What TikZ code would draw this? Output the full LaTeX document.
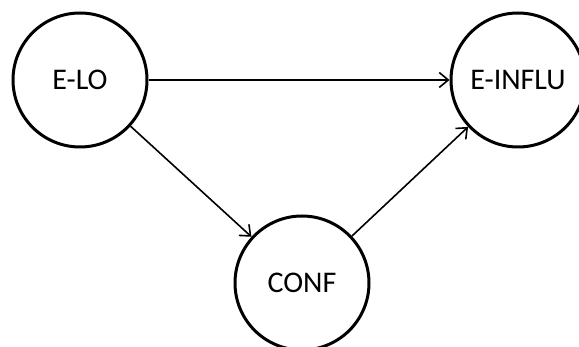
\documentclass[tikz,border=0pt]{standalone}
\usepackage{fontspec}
\setmainfont{Carlito}
\usetikzlibrary{arrows.meta}
\begin{document}
\begin{tikzpicture}[x=1pt,y=-1pt,
  var/.style={circle,draw,line width=3pt,minimum size=134pt,inner sep=0pt,font=\fontsize{30}{32}\selectfont},
  link/.style={line width=1.6pt,-{Straight Barb[length=9pt,width=15pt,line width=1.6pt]}}]
\useasboundingbox (0,0) rectangle (579,347);
\node[var] (elo) at (80,80) {E-LO};
\node[var] (einf) at (518,80) {E-INFLU};
\node[var] (conf) at (302,283) {CONF};
\draw[link] (elo) -- (einf);
\draw[link] (elo) -- (conf);
\draw[link] (conf) -- (einf);
\end{tikzpicture}
\end{document}
